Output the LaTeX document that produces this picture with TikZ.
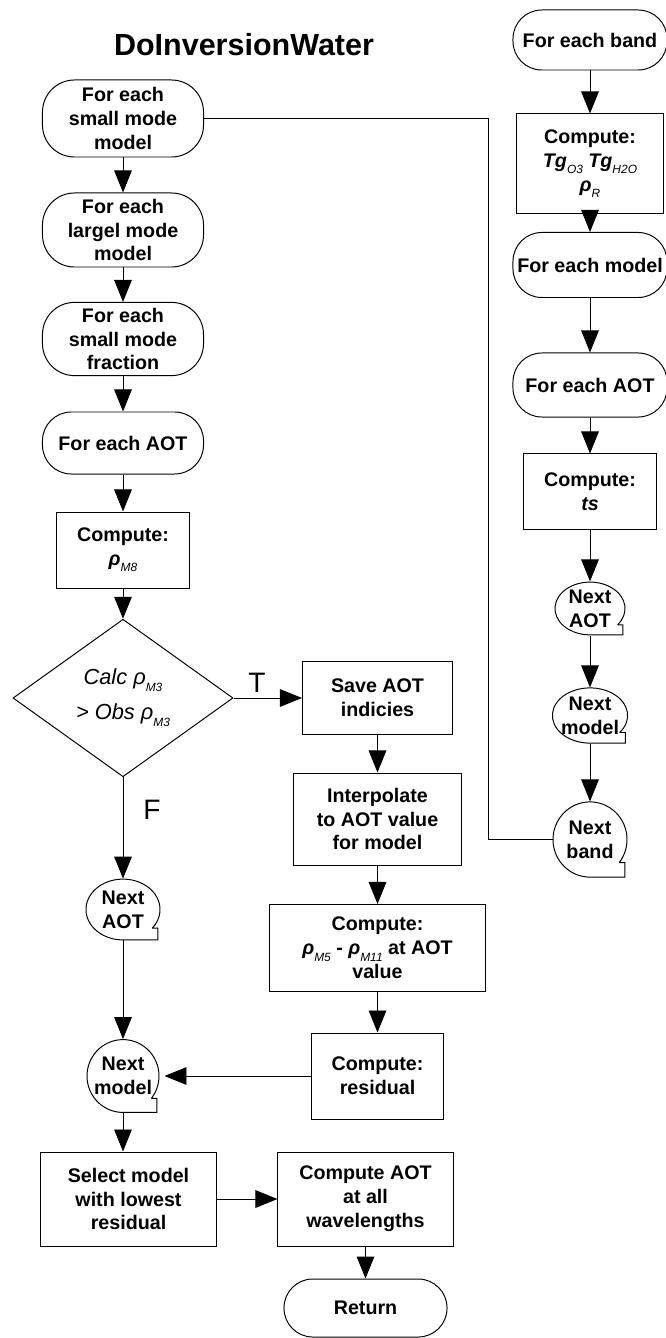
\documentclass[tikz,border=0pt]{standalone}
\usepackage{fontspec}
\setmainfont{Liberation Sans}
\usetikzlibrary{arrows.meta,shapes.geometric,calc}
\newcommand{\lowsub}[1]{\raisebox{-0.6ex}{\fontsize{8.5}{9}\selectfont\mdseries\itshape #1}}
\newcommand{\rhoM}[1]{{\itshape ρ}\lowsub{#1}}
\newcommand{\tgsub}[1]{{\itshape Tg}\lowsub{#1}}
\newcommand{\nextnode}[6]{%
  \node[nxt, minimum width=2*#4, minimum height=2*#5] (#1) at (#2,#3) {#6};
  \coordinate (#1-n) at ($(#1)+(-38:#4 and #5)$);
  \draw (#1-n) arc[start angle=-38, end angle=270, x radius=#4, y radius=#5] -- ++(0.94*#4,0) |- (#1-n);}

\begin{document}
\begin{tikzpicture}[x=0.025cm, y=0.025cm, line width=0.7pt,
        every node/.style={font=\fontsize{14}{17}\selectfont\bfseries},
        term/.style={draw, rounded corners=#1, align=center, inner sep=2pt, minimum width=4.025cm},
        term/.default=0.72cm,
        proc/.style={draw, align=center, inner sep=2pt},
        dec/.style={draw, diamond, align=center, inner sep=1pt, font=\fontsize{15.5}{25}\selectfont\itshape},
        nxt/.style={ellipse, align=center, inner sep=0pt},
        lbl/.style={font=\fontsize{20}{24}\selectfont},
        arr/.style={-{Triangle[length=0.55cm, width=0.44cm]}}]
      \useasboundingbox (0,0) rectangle (665,-1338);
      \node[font=\fontsize{21.7}{26}\selectfont\bfseries] (title) at (244,-45) {DoInversionWater};
      \node[term=0.8cm, minimum height=1.925cm] (smm) at (123,-118.5) {For each\\small mode\\model};
      \node[term=0.8cm, minimum height=1.85cm] (lmm) at (123,-230) {For each\\largel mode\\model};
      \node[term=0.8cm, minimum height=1.83cm] (frac) at (123,-339) {For each\\small mode\\fraction};
      \node[term, minimum height=1.55cm] (aotL) at (123,-443) {For each AOT};
      \node[proc, minimum width=3.3cm, minimum height=1.9cm] (rhoM8) at (123,-550) {Compute:\\\rhoM{M8}};
      \node[dec, minimum width=5.5cm, minimum height=3.65cm] (calc) at (123,-698) {Calc \rhoM{M3}\\> Obs \rhoM{M3}};
      \node[lbl] (T) at (257,-683) {T};
      \node[lbl] (F) at (152,-810) {F};
      \node[proc, minimum width=3.75cm, minimum height=1.825cm] (save) at (377.5,-698) {Save AOT\\indicies};
      \node[proc, minimum width=4.2cm, minimum height=2.3cm] (interp) at (377.5,-819) {Interpolate\\to AOT value\\for model};
      \node[proc, minimum width=5.375cm, minimum height=2.175cm] (rhoDiff) at (377.5,-948) {Compute:\\\rhoM{M5} - \rhoM{M11} at AOT\\value};
      \node[proc, minimum width=3.275cm, minimum height=2.15cm] (resid) at (377.5,-1076) {Compute:\\residual};
      \nextnode{aotNext}{123}{-909.5}{0.925cm}{0.76cm}{Next\\AOT}
      \nextnode{mdlNext}{123}{-1076}{0.9cm}{0.91cm}{Next\\model}
      \node[proc, minimum width=4.375cm, minimum height=2.35cm] (select) at (128.5,-1199) {Select model\\with lowest\\residual};
      \node[proc, minimum width=4.375cm, minimum height=2.35cm] (aotAll) at (365.5,-1199) {Compute AOT\\at all\\wavelengths};
      \node[term, minimum width=4.075cm, minimum height=1.45cm] (ret) at (365.5,-1308) {Return};
      \node[term, minimum width=3.85cm, minimum height=1.5cm] (band) at (590,-40) {For each band};
      \node[proc, minimum width=3.65cm, minimum height=2.475cm] (tg) at (590,-163.5) {Compute:\\\tgsub{O3} \tgsub{H2O}\\\rhoM{R}};
      \node[term, minimum width=3.85cm, minimum height=1.625cm] (mdlR) at (590,-265) {For each model};
      \node[term, minimum width=3.85cm, minimum height=1.6cm] (aotR) at (590,-385) {For each AOT};
      \node[proc, minimum width=3.325cm, minimum height=1.875cm] (ts) at (590,-491.5) {Compute:\\{\itshape ts}};
      \nextnode{aotNextR}{590}{-608.5}{0.875cm}{0.66cm}{Next\\AOT}
      \nextnode{mdlNextR}{590}{-715.5}{0.94cm}{0.69cm}{Next\\model}
      \nextnode{bandNext}{590}{-839.5}{0.925cm}{0.94cm}{Next\\band}
      \coordinate (jog) at (488,0);
      \draw[arr] (smm) -- (lmm); \draw[arr] (lmm) -- (frac); \draw[arr] (frac) -- (aotL);
      \draw[arr] (aotL) -- (rhoM8); \draw[arr] (rhoM8) -- (calc);
      \draw[arr] (calc) -- (save); \draw[arr] (calc) -- (aotNext);
      \draw[arr] (save) -- (interp); \draw[arr] (interp) -- (rhoDiff); \draw[arr] (rhoDiff) -- (resid);
      \draw[arr] (aotNext) -- (mdlNext); \draw[arr] (resid) -- (mdlNext);
      \draw[arr] (mdlNext.south) -- (mdlNext.south |- select.north);
      \draw[arr] (select) -- (aotAll); \draw[arr] (aotAll) -- (ret);
      \draw[arr] (band) -- (tg); \draw[arr] (tg) -- (mdlR); \draw[arr] (mdlR) -- (aotR);
      \draw[arr] (aotR) -- (ts); \draw[arr] (ts) -- (aotNextR);
      \draw[arr] (aotNextR) -- (mdlNextR); \draw[arr] (mdlNextR) -- (bandNext);
      \draw (smm.east) -- (smm.east -| jog) |- (bandNext.west);
\end{tikzpicture}
\end{document}
